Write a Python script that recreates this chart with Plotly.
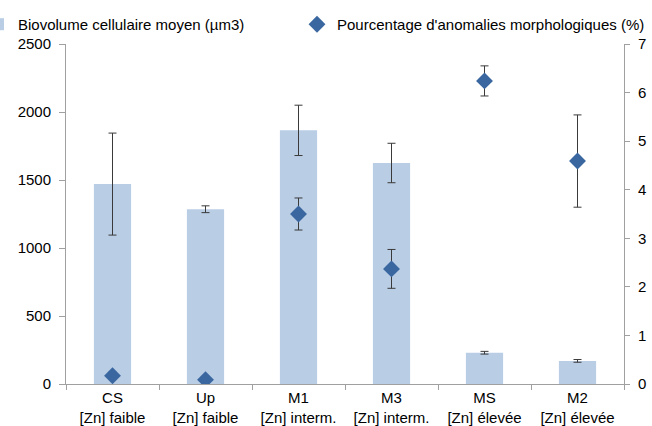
import plotly.graph_objects as go

categories = ["CS<br>[Zn] faible", "Up<br>[Zn] faible", "M1<br>[Zn] interm.",
              "M3<br>[Zn] interm.", "MS<br>[Zn] élevée", "M2<br>[Zn] élevée"]
biovolume = [1470, 1285, 1865, 1625, 230, 170]
biovolume_err = [375, 25, 185, 145, 10, 10]
anomalies = [0.17, 0.09, 3.50, 2.37, 6.24, 4.59]
anomalies_err = [0.07, 0.03, 0.33, 0.40, 0.31, 0.95]

FONT = "Liberation Sans, Arial, sans-serif"
AX = "#a0a0a0"
ERR = "#3a3a3a"
FS = 15

fig = go.Figure()
fig.add_trace(go.Bar(
    x=categories, y=biovolume, name="Biovolume cellulaire moyen (µm3)",
    marker=dict(color="#b9cde5", line=dict(width=0)), width=0.4,
    error_y=dict(type="data", array=biovolume_err, color=ERR, thickness=1, width=4),
    yaxis="y", legend="legend",
))
fig.add_trace(go.Scatter(
    x=categories, y=anomalies, name="Pourcentage d'anomalies morphologiques (%)",
    mode="markers", marker=dict(symbol="diamond", size=13, color="#3a67a0"),
    error_y=dict(type="data", array=anomalies_err, color=ERR, thickness=1, width=4),
    yaxis="y2", legend="legend2",
))

tickfont = dict(family=FONT, size=FS, color="#000000")
legfont = dict(family=FONT, size=FS, color="#000000")
fig.update_layout(
    width=652, height=426,
    margin=dict(l=66, r=28, t=44, b=42, autoexpand=False),
    paper_bgcolor="white", plot_bgcolor="white",
    font=dict(family=FONT, size=FS, color="#000000"),
    showlegend=True,
    legend=dict(orientation="h", x=-0.1577, xanchor="left", y=1.106, yanchor="top",
                font=legfont, itemwidth=30, bgcolor="rgba(0,0,0,0)"),
    legend2=dict(orientation="h", x=0.414, xanchor="left", y=1.106, yanchor="top",
                 font=legfont, itemwidth=30, bgcolor="rgba(0,0,0,0)"),
    xaxis=dict(type="category", showline=True, linecolor=AX, linewidth=1,
               ticks="outside", ticklen=5, tickcolor=AX, tickson="boundaries",
               tickfont=tickfont, showgrid=False, zeroline=False,
               range=[-0.5, 5.5]),
    xaxis2=dict(overlaying="x", anchor="y", side="bottom", range=[-0.5, 5.5],
                tickmode="array", tickvals=[0.5, 1.5, 2.5, 3.5, 4.5],
                ticks="inside", ticklen=5, tickcolor=AX, showticklabels=False,
                showline=False, showgrid=False, zeroline=False),
    yaxis=dict(range=[0, 2500], dtick=500, showline=True, linecolor=AX, linewidth=1,
               ticks="outside", ticklen=6, tickcolor=AX, tickfont=tickfont,
               ticklabelstandoff=5,
               showgrid=False, zeroline=False),
    yaxis2=dict(range=[0, 7], dtick=1, overlaying="y", side="right", anchor="x",
                showline=True, linecolor=AX, linewidth=1,
                ticks="outside", ticklen=5, tickcolor=AX, tickfont=tickfont,
                ticklabelstandoff=5,
                showgrid=False, zeroline=False),
    yaxis3=dict(range=[0, 2500], dtick=500, overlaying="y", side="left", anchor="x",
                ticks="inside", ticklen=4, tickcolor=AX, showticklabels=False,
                showline=False, showgrid=False, zeroline=False),
    yaxis4=dict(range=[0, 7], dtick=1, overlaying="y", side="right", anchor="x",
                ticks="inside", ticklen=5, tickcolor=AX, showticklabels=False,
                showline=False, showgrid=False, zeroline=False),
    bargap=0.6,
)

fig.write_html("out.html")
